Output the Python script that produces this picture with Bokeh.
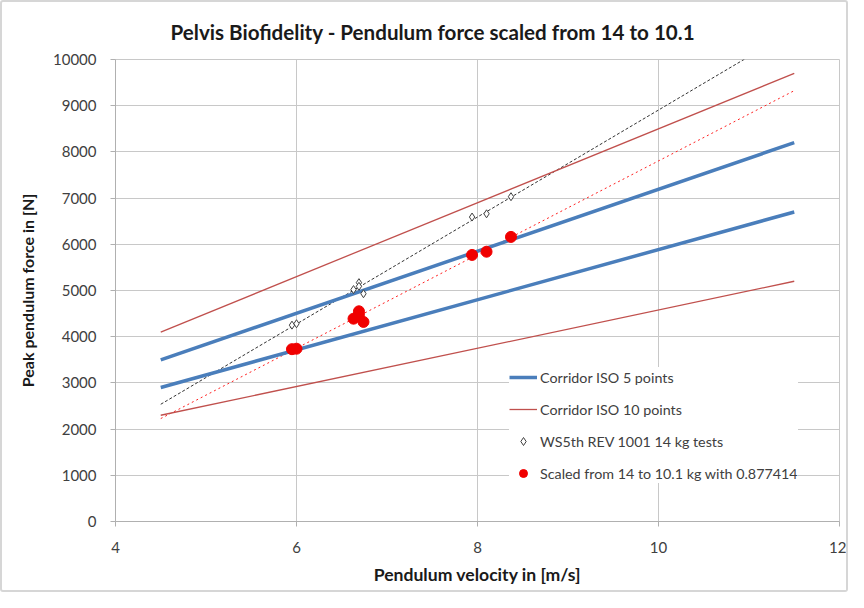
import numpy as np
from bokeh.plotting import figure
from bokeh.models import Legend, LegendItem, Range1d, FixedTicker
from bokeh.embed import file_html
from bokeh.resources import INLINE

# ---- data ----
corridor_x = [4.5, 11.5]
iso5_upper = [3500, 8200]
iso5_lower = [2900, 6700]
iso10_upper = [4100, 9700]
iso10_lower = [2300, 5200]

test_velocity = [5.95, 6.00, 6.63, 6.69, 6.69, 6.74, 7.94, 8.10, 8.37]
test_force = [4250, 4280, 5020, 5170, 5090, 4930, 6590, 6660, 7030]
scaled_force = [3730, 3740, 4390, 4550, 4480, 4320, 5770, 5840, 6160]

trend_x = [4.5, 11.5]
x_ticks = [4, 6, 8, 10, 12]
y_ticks = list(range(0, 10001, 1000))

FONT = "Lato"
TXT = "#404040"
GRID = "#c8c8c8"

p = figure(width=848, height=592, output_backend="svg", toolbar_location=None,
           x_range=Range1d(4, 12), y_range=Range1d(0, 10000),
           min_border_left=113, min_border_right=11, min_border_top=57, min_border_bottom=73)
p.styles = {"border": "2px solid #d6d6d6", "border-radius": "3px", "box-sizing": "border-box"}

p.title.text = "Pelvis Biofidelity - Pendulum force scaled from 14 to 10.1"
p.title.align = "left"
p.title.offset = 55
p.title.standoff = 30
p.title.vertical_align = "middle"
p.title.text_font = FONT
p.title.text_font_size = "20.6px"
p.title.text_font_style = "bold"
p.title.text_color = "#1a1a1a"

p.outline_line_color = GRID
p.xgrid.grid_line_color = GRID
p.ygrid.grid_line_color = GRID
p.xaxis.ticker = FixedTicker(ticks=x_ticks)
p.yaxis.ticker = FixedTicker(ticks=y_ticks)
for ax in (p.xaxis, p.yaxis):
    ax.axis_line_color = "#b0b0b0"
    ax.major_tick_line_color = "#b0b0b0"
    ax.major_tick_out = 5
    ax.major_tick_in = 0
    ax.minor_tick_line_color = None
    ax.major_label_text_font = FONT
    ax.major_label_text_font_size = "15px"
    ax.major_label_text_color = TXT
    ax.axis_label_text_font = FONT
    ax.axis_label_text_font_style = "bold"
    ax.axis_label_text_color = "#1a1a1a"
p.xaxis.axis_label = "Pendulum velocity in [m/s]"
p.yaxis.axis_label = "Peak pendulum force in [N]"
p.xaxis.axis_label_text_font_size = "17.6px"
p.yaxis.axis_label_text_font_size = "16px"
p.xaxis.major_label_standoff = 15
p.yaxis.major_label_standoff = 14
p.xaxis.axis_label_standoff = 8
p.yaxis.axis_label_standoff = 13

# trendlines from the test data
k1 = np.polyfit(test_velocity, test_force, 1)
k2 = np.polyfit(test_velocity, scaled_force, 1)
tx = np.array(trend_x)
p.line(tx, np.polyval(k1, tx), line_color="#333333", line_width=1, line_dash="3 2")
p.line(tx, np.polyval(k2, tx), line_color="#ff2020", line_width=1, line_dash="2 3")

BLUE = "#4a7ebb"
RED = "#c0504d"
b1 = p.line(corridor_x, iso5_upper, line_color=BLUE, line_width=3.5)
b2 = p.line(corridor_x, iso5_lower, line_color=BLUE, line_width=3.5)
r1 = p.line(corridor_x, iso10_upper, line_color=RED, line_width=1.3)
r2 = p.line(corridor_x, iso10_lower, line_color=RED, line_width=1.3)
d = p.scatter(test_velocity, test_force, marker="diamond", size=8,
              fill_color="white", line_color="#404040", line_width=1)
c = p.scatter(test_velocity, scaled_force, marker="circle", size=11,
              fill_color="#f00000", line_color="#f00000")

legend = Legend(items=[
    LegendItem(label="Corridor ISO 5 points", renderers=[b1]),
    LegendItem(label="Corridor ISO 10 points", renderers=[r1]),
    LegendItem(label="WS5th REV 1001 14 kg tests", renderers=[d]),
    LegendItem(label="Scaled from 14 to 10.1 kg with 0.877414", renderers=[c]),
], location=(394, 38))
legend.border_line_color = None
legend.background_fill_color = "white"
legend.background_fill_alpha = 1
legend.label_text_font = FONT
legend.label_text_font_size = "14.3px"
legend.label_text_color = TXT
legend.glyph_width = 28
legend.glyph_height = 20
legend.label_height = 20
legend.label_standoff = 3
legend.spacing = 12
legend.padding = 8
legend.margin = 0
p.add_layout(legend, "center")

open("out.html", "w").write(file_html(p, INLINE))
